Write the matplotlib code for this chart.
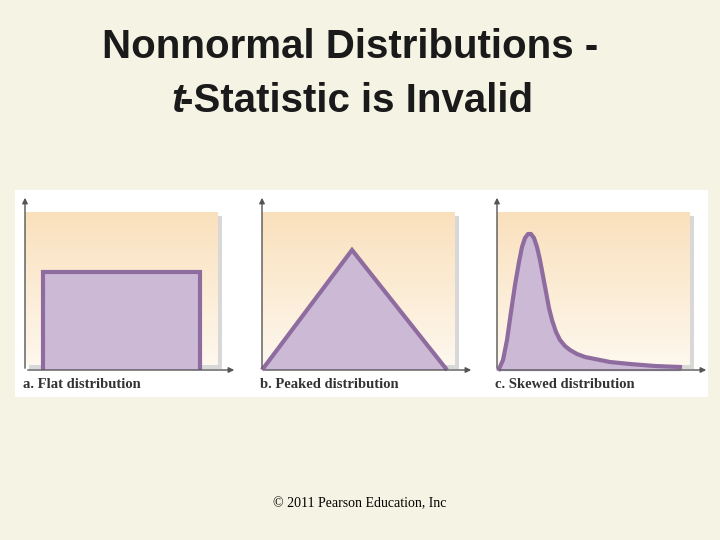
import numpy as np
import matplotlib.pyplot as plt
from matplotlib.patches import Rectangle, Polygon

title_lines = ["Nonnormal Distributions -", "t-Statistic is Invalid"]
panel_labels = ["a. Flat distribution", "b. Peaked distribution", "c. Skewed distribution"]
panel_x0 = [25, 262, 497]

flat_x = [43, 43, 200, 200]
flat_y = [370, 272, 272, 370]
peak_x = [262, 352, 447]
peak_y = [370, 250, 370]
skew_x = [499, 503, 507, 511, 515, 519, 522, 525, 528, 531, 534, 537, 540, 543, 546, 549, 552, 556, 560, 565, 570, 577, 585, 595, 610, 630, 655, 680]
skew_y = [369, 360, 340, 312, 285, 262, 247, 238, 234, 234, 238, 247, 260, 276, 292, 308, 320, 332, 340, 346, 350, 354, 357, 359, 362, 364, 366, 367]

fig = plt.figure(figsize=(7.2, 5.4), dpi=100)
fig.patch.set_facecolor("#F5F3E3")
ax = fig.add_axes([0, 0, 1, 1])
ax.set_xlim(0, 720)
ax.set_ylim(540, 0)
ax.axis("off")

ax.text(350, 47, title_lines[0], ha="center", va="center", fontsize=29, fontweight="bold",
        family="Liberation Sans", color="#1a1a1a")
ax.text(357, 101, title_lines[1][1:], ha="center", va="center", fontsize=29, fontweight="bold",
        family="Liberation Sans", color="#1a1a1a")
ax.text(185, 101, "t", ha="right", va="center", fontsize=29, fontweight="bold", style="italic",
        family="Liberation Sans", color="#1a1a1a")
ax.text(360, 504, "© 2011 Pearson Education, Inc", ha="center", va="center", fontsize=10,
        family="Liberation Serif")

ax.add_patch(Rectangle((15, 190), 693, 207, facecolor="white", edgecolor="none"))

grad = np.linspace(0, 1, 100)[:, None]
top = np.array([0.98, 0.88, 0.74])
bot = np.array([0.995, 0.97, 0.93])
img = top[None, None, :] * (1 - grad[..., None]) + bot[None, None, :] * grad[..., None]

fill_c = "#CBB9D6"
edge_c = "#8F6C9F"
for i, x0 in enumerate(panel_x0):
    ax.add_patch(Rectangle((x0 + 4, 216), 193, 153, facecolor="#D8D8D8", edgecolor="none"))
    ax.imshow(img, extent=(x0, x0 + 193, 365, 212), aspect="auto", zorder=1)
    ax.annotate("", xy=(x0, 195), xytext=(x0, 371),
                arrowprops=dict(arrowstyle="-|>", color="#555555", lw=1, mutation_scale=8), zorder=3)
    ax.annotate("", xy=(x0 + 212, 370), xytext=(x0, 370),
                arrowprops=dict(arrowstyle="-|>", color="#555555", lw=1, mutation_scale=8), zorder=3)
    ax.text(x0 - 2, 385, panel_labels[i], ha="left", va="center", fontsize=10.5,
            family="Liberation Serif", fontweight="bold", color="#333333")

ax.add_patch(Polygon(list(zip(flat_x, flat_y)), closed=False, facecolor=fill_c, edgecolor=edge_c, lw=3, zorder=2))
ax.add_patch(Polygon(list(zip(peak_x, peak_y)), closed=False, facecolor=fill_c, edgecolor=edge_c, lw=3, zorder=2))
ax.fill_between(skew_x, skew_y, 370, color=fill_c, zorder=2)
ax.plot(skew_x, skew_y, color=edge_c, lw=3, zorder=2, solid_joinstyle="round")

fig.savefig("out.png", dpi=100, facecolor=fig.get_facecolor())
